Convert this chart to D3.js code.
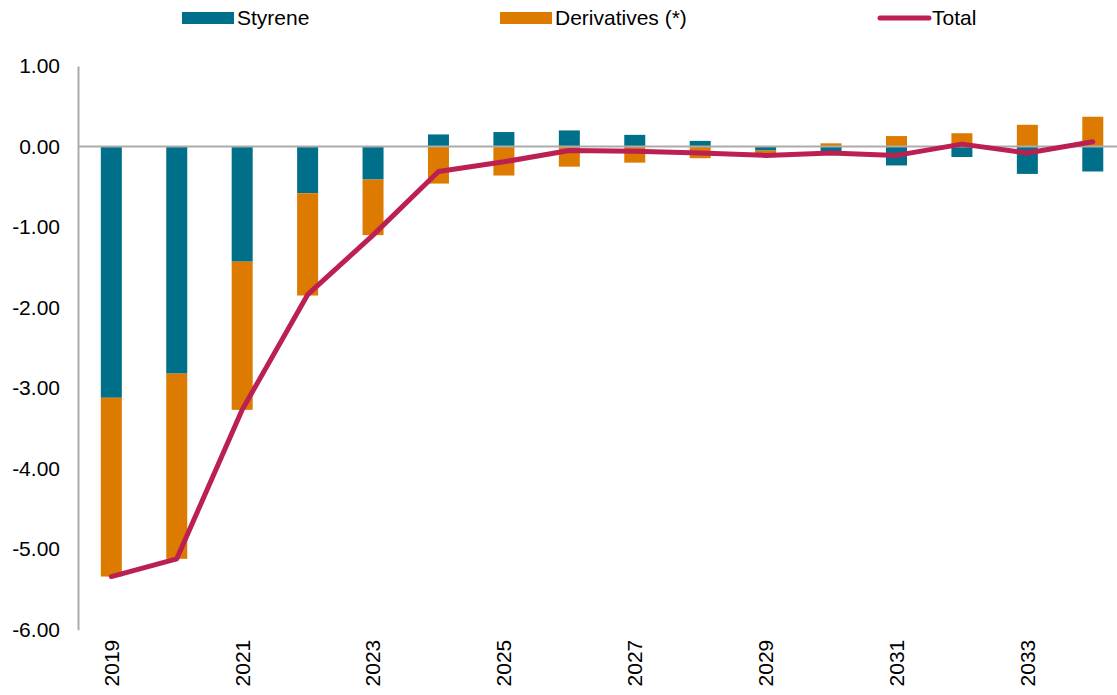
<!DOCTYPE html>
<html>
<head>
<meta charset="utf-8">
<script src="https://cdn.jsdelivr.net/npm/d3@7"></script>
<style>
  html, body { margin: 0; padding: 0; background: #ffffff; }
  svg { display: block; font-family: "Liberation Sans", Arial, sans-serif; }
</style>
</head>
<body>
<svg id="chart" width="1117" height="695"></svg>
<script>
// Annual change by component, 2019–2034
const years = ["2019","2020","2021","2022","2023","2024","2025","2026","2027","2028","2029","2030","2031","2032","2033","2034"];
const styrene     = [-3.12, -2.82, -1.43, -0.58, -0.41, 0.15, 0.18, 0.20, 0.145, 0.07, -0.05, -0.10, -0.235, -0.13, -0.34, -0.31];
const derivatives = [-2.22, -2.30, -1.84, -1.27, -0.69, -0.46, -0.36, -0.25, -0.20, -0.145, -0.03, 0.04, 0.13, 0.165, 0.27, 0.37];
const total       = [-5.34, -5.12, -3.27, -1.84, -1.10, -0.31, -0.19, -0.05, -0.06, -0.08, -0.11, -0.08, -0.11, 0.03, -0.08, 0.06];
const yTicks = [1, 0, -1, -2, -3, -4, -5, -6];
const xTickLabels = ["2019","2021","2023","2025","2027","2029","2031","2033"];
const seriesNames = ["Styrene", "Derivatives (*)", "Total"];

const colors = { styrene: "#006f8a", derivatives: "#dd7b00", total: "#bc1f52" };
const axisGray = "#ababab";
const fontSize = 21;

const svg = d3.select("#chart");

const x = d3.scaleBand().domain(years).range([78.6, 1125.5]).padding(0);
const y = d3.scaleLinear().domain([-6, 1]).range([629.7, 66]);
const barW = 21;

// Diverging stack so positive and negative parts grow away from zero
const rows = years.map((yr, i) => ({ year: yr, styrene: styrene[i], derivatives: derivatives[i] }));
const stack = d3.stack().keys(["styrene", "derivatives"]).offset(d3.stackOffsetDiverging);
const layers = stack(rows);

svg.append("g")
  .selectAll("g")
  .data(layers)
  .join("g")
  .attr("fill", d => colors[d.key])
  .selectAll("rect")
  .data(d => d)
  .join("rect")
  .attr("x", d => x(d.data.year) + x.bandwidth() / 2 - barW / 2)
  .attr("width", barW)
  .attr("y", d => y(Math.max(d[0], d[1])))
  .attr("height", d => Math.abs(y(d[0]) - y(d[1])));

// Zero baseline
svg.append("line")
  .attr("x1", 78).attr("x2", 1117)
  .attr("y1", y(0)).attr("y2", y(0))
  .attr("stroke", axisGray).attr("stroke-width", 2);

// Y axis
const yAxis = d3.axisLeft(y).tickValues(yTicks).tickSize(0).tickPadding(18)
  .tickFormat(d3.format(".2f"));
const gy = svg.append("g").attr("transform", "translate(78,0)").call(yAxis);
gy.select(".domain").attr("stroke", axisGray).attr("stroke-width", 2);
gy.selectAll("text")
  .attr("font-size", fontSize)
  .attr("fill", "#000")
  .attr("font-family", "Liberation Sans, Arial, sans-serif")
  .text(d => d3.format(".2f")(d).replace("−", "-"));

// X axis labels, rotated
const xAxis = d3.axisBottom(x).tickValues(xTickLabels).tickSize(0);
const gx = svg.append("g").attr("transform", "translate(0,629.7)").call(xAxis);
gx.select(".domain").remove();
gx.selectAll("text")
  .attr("font-size", fontSize)
  .attr("fill", "#000")
  .attr("font-family", "Liberation Sans, Arial, sans-serif")
  .attr("transform", "rotate(-90)")
  .attr("text-anchor", "end")
  .attr("x", -10)
  .attr("y", 0)
  .attr("dy", "0.35em");

// Total line
const line = d3.line()
  .x((d, i) => x(years[i]) + x.bandwidth() / 2)
  .y(d => y(d));
svg.append("path")
  .datum(total)
  .attr("fill", "none")
  .attr("stroke", colors.total)
  .attr("stroke-width", 5)
  .attr("stroke-linejoin", "round")
  .attr("stroke-linecap", "round")
  .attr("d", line);

// Legend
const legend = svg.append("g").attr("font-size", fontSize).attr("fill", "#000");
const legendItems = [
  { name: seriesNames[0], x: 182, type: "rect", color: colors.styrene },
  { name: seriesNames[1], x: 500, type: "rect", color: colors.derivatives },
  { name: seriesNames[2], x: 877, type: "line", color: colors.total }
];
legendItems.forEach(it => {
  if (it.type === "rect") {
    legend.append("rect").attr("x", it.x).attr("y", 12).attr("width", 52).attr("height", 12).attr("fill", it.color);
  } else {
    legend.append("line").attr("x1", it.x + 3).attr("x2", it.x + 52).attr("y1", 18).attr("y2", 18)
      .attr("stroke", it.color).attr("stroke-width", 5).attr("stroke-linecap", "round");
  }
  legend.append("text").attr("x", it.x + 55).attr("y", 18).attr("dy", "0.35em").text(it.name);
});
</script>
</body>
</html>
